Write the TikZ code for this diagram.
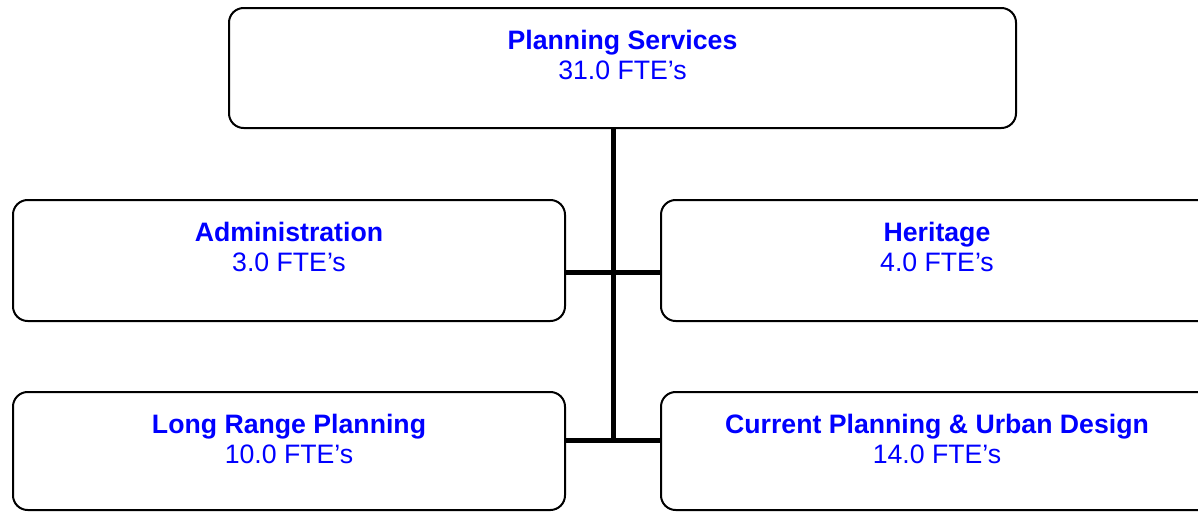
\documentclass[tikz,border=0pt]{standalone}
\usepackage{fontspec}
\setmainfont{Liberation Sans}
\usetikzlibrary{positioning}

\begin{document}
\begin{tikzpicture}[x=0.75pt,y=-0.75pt]
      \tikzstyle{unit}=[draw,line width=1.5pt,rounded corners=11pt,minimum width=414pt,minimum height=90pt,inner sep=0pt]
      \tikzstyle{lbl}=[anchor=north,align=center,inner sep=0pt,text=blue,font=\fontsize{20}{22.5}\selectfont]
      \tikzstyle{conn}=[draw,line width=3.75pt]
      \clip (0,0) rectangle (1198,511);
      % boxes
      \node[unit,minimum width=590.25pt] (ps) at (622.5,68) {};
      \node[unit,minimum height=90.75pt] (adm) at (289,260.5) {};
      \node[unit,minimum height=90.75pt] (her) at (937,260.5) {};
      \node[unit,minimum height=88.5pt] (lrp) at (289,451) {};
      \node[unit,minimum height=88.5pt] (cpd) at (937,451) {};
      % names and staff counts
      \node[lbl] at ([yshift=-17pt]ps.north) {\textbf{Planning Services}\\31.0 FTE's};
      \node[lbl] at ([yshift=-17pt]adm.north) {\textbf{Administration}\\3.0 FTE's};
      \node[lbl] at ([yshift=-17pt]her.north) {\textbf{Heritage}\\4.0 FTE's};
      \node[lbl] at ([yshift=-17pt]lrp.north) {\textbf{Long Range Planning}\\10.0 FTE's};
      \node[lbl] at ([yshift=-17pt]cpd.north) {\textbf{Current Planning \& Urban Design}\\14.0 FTE's};
      % connectors
      \coordinate (j1) at (613,272);
      \coordinate (j2) at (613,440.5);
      \draw[conn] (ps.south -| j1) -- (j2);
      \draw[conn] (adm.east |- j1) -- (her.west |- j1);
      \draw[conn] (lrp.east |- j2) -- (cpd.west |- j2);
    \end{tikzpicture}
\end{document}
